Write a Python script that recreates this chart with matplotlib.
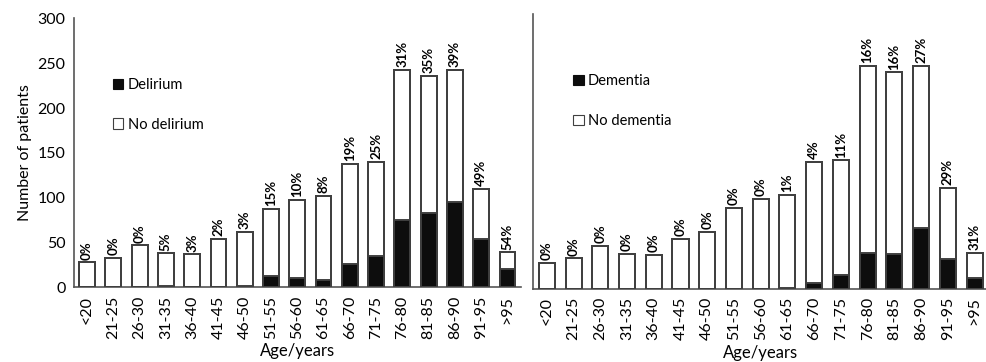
import numpy as np
import matplotlib.pyplot as plt

# age groups and counts
ages = ['<20', '21-25', '26-30', '31-35', '36-40', '41-45', '46-50', '51-55',
        '56-60', '61-65', '66-70', '71-75', '76-80', '81-85', '86-90', '91-95', '>95']
total = [28, 33, 47, 38, 37, 54, 62, 88, 98, 102, 138, 140, 243, 236, 243, 110, 39]

delirium = [0, 0, 0, 2, 1, 1, 2, 13, 10, 8, 26, 35, 75, 83, 95, 54, 21]
delirium_pct = ['0%', '0%', '0%', '5%', '3%', '2%', '3%', '15%', '10%', '8%',
                '19%', '25%', '31%', '35%', '39%', '49%', '54%']

dementia = [0, 0, 0, 0, 0, 0, 0, 0, 0, 1, 6, 15, 39, 38, 66, 32, 12]
dementia_pct = ['0%', '0%', '0%', '0%', '0%', '0%', '0%', '0%', '0%', '1%',
                '4%', '11%', '16%', '16%', '27%', '29%', '31%']

plt.rcParams['font.family'] = ['Lato', 'DejaVu Sans']

fig = plt.figure(figsize=(9.86, 3.62), dpi=100, facecolor='white')
ax1 = fig.add_axes([0.075, 0.206, 0.453, 0.743])
ax2 = fig.add_axes([0.541, 0.2025, 0.461, 0.76])

edge = '#404040'
x = np.arange(len(ages))


def panel(ax, pos, pct, lab_pos, lab_neg, ylabels):
    neg = np.array(total) - np.array(pos)
    ax.bar(x, pos, width=0.6, color='#0d0d0d', edgecolor='#0d0d0d', linewidth=1.2,
           label=lab_pos, zorder=2)
    ax.bar(x, neg, bottom=pos, width=0.6, color='white', edgecolor=edge, linewidth=1.4,
           label=lab_neg, zorder=2)
    # outline the whole column
    ax.bar(x, total, width=0.6, fill=False, edgecolor=edge, linewidth=1.4, zorder=3)
    for xi, t, p in zip(x, total, pct):
        ax.text(xi, t + 3, p, rotation=90, ha='center', va='bottom',
                fontsize=9.5, fontweight='bold', color='black')
    ax.set_xlim(-0.5, len(ages) - 0.5)
    ax.set_ylim(0, 300)
    ax.set_xticks(x)
    ax.set_xticklabels(ages, rotation=90, fontsize=11.5)
    ax.set_yticks([0, 50, 100, 150, 200, 250, 300])
    if not ylabels:
        ax.set_yticklabels([])
    else:
        ax.tick_params(axis='y', labelsize=11.5)
    ax.tick_params(length=0, pad=6)
    ax.set_xlabel('Age/years', fontsize=12, labelpad=3)
    for s in ['top', 'right']:
        ax.spines[s].set_visible(False)
    for s in ['left', 'bottom']:
        ax.spines[s].set_color('#555555')
        ax.spines[s].set_linewidth(1.2)
    leg = ax.legend(loc='upper left', bbox_to_anchor=(0.075, 0.80), frameon=False,
                    fontsize=10.5, handlelength=0.7, handleheight=0.7,
                    handletextpad=0.3, labelspacing=1.75, borderaxespad=0)
    for h in leg.legend_handles:
        h.set_linewidth(0.8)


panel(ax1, delirium, delirium_pct, 'Delirium', 'No delirium', True)
panel(ax2, dementia, dementia_pct, 'Dementia', 'No dementia', False)
ax1.set_ylabel('Number of patients', fontsize=11.5, labelpad=4)

fig.savefig('out.png', dpi=100, facecolor='white')
